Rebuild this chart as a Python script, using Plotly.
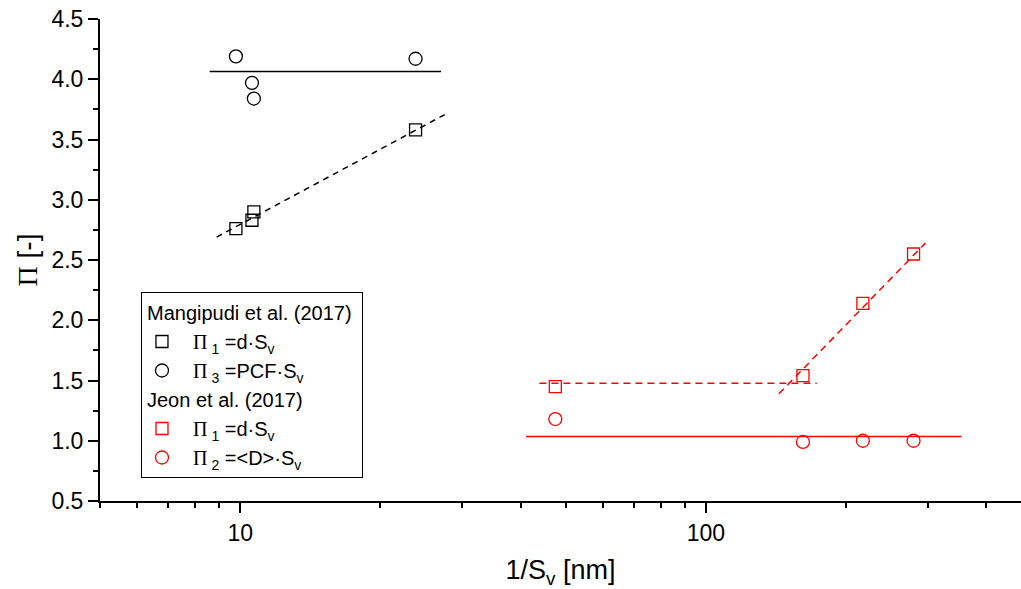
import math
import plotly.graph_objects as go

# ---- data ----
mang_x = [9.79, 10.6, 10.7, 23.8]
mang_pi1 = [2.76, 2.83, 2.90, 3.58]
mang_pi3 = [4.19, 3.97, 3.84, 4.17]

jeon_x = [47.5, 161.6, 217.3, 279.2]
jeon_pi1 = [1.45, 1.54, 2.14, 2.55]
jeon_pi2 = [1.18, 0.99, 1.00, 1.00]

# fit / guide lines
mang_pi3_line_x = [8.6, 27.0]
mang_pi3_line_y = [4.065, 4.065]
mang_pi1_line_x = [8.9, 27.9]
mang_pi1_line_y = [2.69, 3.72]

jeon_pi2_line_x = [41.1, 354.0]
jeon_pi2_line_y = [1.035, 1.035]
jeon_pi1_flat_x = [43.9, 173.0]
jeon_pi1_flat_y = [1.477, 1.477]
jeon_pi1_rise_x = [143.5, 296.0]
jeon_pi1_rise_y = [1.39, 2.64]

x_major = [10, 100]
x_minor = [5, 6, 7, 8, 9, 20, 30, 40, 50, 60, 70, 80, 90, 200, 300, 400]
y_major = [0.5, 1.0, 1.5, 2.0, 2.5, 3.0, 3.5, 4.0, 4.5]
y_labels = ["0.5", "1.0", "1.5", "2.0", "2.5", "3.0", "3.5", "4.0", "4.5"]

BLACK = "#000000"
RED = "#FF0000"
FONT = "Arial, Liberation Sans, sans-serif"
PI = "<span style='font-family:Liberation Serif, Times New Roman, serif'>Π</span>"
PAD = "&nbsp;&nbsp;"

fig = go.Figure()

# lines (no legend)
fig.add_trace(go.Scatter(x=mang_pi3_line_x, y=mang_pi3_line_y, mode="lines",
                         line=dict(color=BLACK, width=1.5), showlegend=False, hoverinfo="skip"))
fig.add_trace(go.Scatter(x=mang_pi1_line_x, y=mang_pi1_line_y, mode="lines",
                         line=dict(color=BLACK, width=1.5, dash="6px,5px"), showlegend=False, hoverinfo="skip"))
fig.add_trace(go.Scatter(x=jeon_pi2_line_x, y=jeon_pi2_line_y, mode="lines",
                         line=dict(color=RED, width=1.5), showlegend=False, hoverinfo="skip"))
fig.add_trace(go.Scatter(x=jeon_pi1_flat_x, y=jeon_pi1_flat_y, mode="lines",
                         line=dict(color=RED, width=1.5, dash="7px,5px"), showlegend=False, hoverinfo="skip"))
fig.add_trace(go.Scatter(x=jeon_pi1_rise_x, y=jeon_pi1_rise_y, mode="lines",
                         line=dict(color=RED, width=1.5, dash="7px,5px"), showlegend=False, hoverinfo="skip"))

# markers
fig.add_trace(go.Scatter(
    x=mang_x, y=mang_pi1, mode="markers",
    name=PAD + PI + "<sub> 1</sub> =d·S<sub>v</sub>",
    legendgroup="mang", legendgrouptitle=dict(text="Mangipudi et al. (2017)"),
    marker=dict(symbol="square-open", size=12, color=BLACK, line=dict(width=1.3, color=BLACK))))
fig.add_trace(go.Scatter(
    x=mang_x, y=mang_pi3, mode="markers",
    name=PAD + PI + "<sub> 3</sub> =PCF·S<sub>v</sub>",
    legendgroup="mang",
    marker=dict(symbol="circle-open", size=13, color=BLACK, line=dict(width=1.3, color=BLACK))))
fig.add_trace(go.Scatter(
    x=jeon_x, y=jeon_pi1, mode="markers",
    name=PAD + PI + "<sub> 1</sub> =d·S<sub>v</sub>",
    legendgroup="jeon", legendgrouptitle=dict(text="Jeon et al. (2017)"),
    marker=dict(symbol="square-open", size=12, color=RED, line=dict(width=1.3, color=RED))))
fig.add_trace(go.Scatter(
    x=jeon_x, y=jeon_pi2, mode="markers",
    name=PAD + PI + "<sub> 2</sub> =&lt;D&gt;·S<sub>v</sub>",
    legendgroup="jeon",
    marker=dict(symbol="circle-open", size=13, color=RED, line=dict(width=1.3, color=RED))))

fig.update_layout(
    width=1021, height=589,
    margin=dict(l=100, r=0, t=19, b=88),
    paper_bgcolor="white", plot_bgcolor="white",
    font=dict(family=FONT, size=22, color=BLACK),
    showlegend=True,
    legend=dict(
        x=0.0445, y=0.4336, xanchor="left", yanchor="top",
        bordercolor=BLACK, borderwidth=1, bgcolor="white",
        font=dict(family=FONT, size=20, color=BLACK),
        grouptitlefont=dict(family=FONT, size=20, color=BLACK),
        tracegroupgap=0, traceorder="grouped",
    ),
    xaxis=dict(
        type="log",
        range=[math.log10(5), math.log10(5) + 921 / 465.7],
        tickvals=x_major, ticktext=[str(v) for v in x_major],
        ticks="outside", ticklen=10, tickwidth=2, tickcolor=BLACK,
        minor=dict(tickvals=x_minor, ticks="outside", ticklen=5, tickwidth=2, tickcolor=BLACK, showgrid=False),
        showline=True, linewidth=2, linecolor=BLACK, mirror=False,
        showgrid=False, zeroline=False,
        tickfont=dict(family=FONT, size=23, color=BLACK),
        title=dict(text="1/S<sub>v</sub> [nm]", font=dict(family=FONT, size=27, color=BLACK), standoff=23),
    ),
    yaxis=dict(
        range=[0.5, 4.5],
        tickvals=y_major, ticktext=y_labels,
        ticks="outside", ticklen=10, tickwidth=2, tickcolor=BLACK,
        minor=dict(dtick=0.25, tick0=0.75, ticks="outside", ticklen=5, tickwidth=2, tickcolor=BLACK, showgrid=False),
        showline=True, linewidth=2, linecolor=BLACK, mirror=False,
        showgrid=False, zeroline=False,
        tickfont=dict(family=FONT, size=23, color=BLACK),
        title=dict(text=PI + " [-]", font=dict(family=FONT, size=28, color=BLACK), standoff=6),
    ),
)

fig.write_html("out.html")
